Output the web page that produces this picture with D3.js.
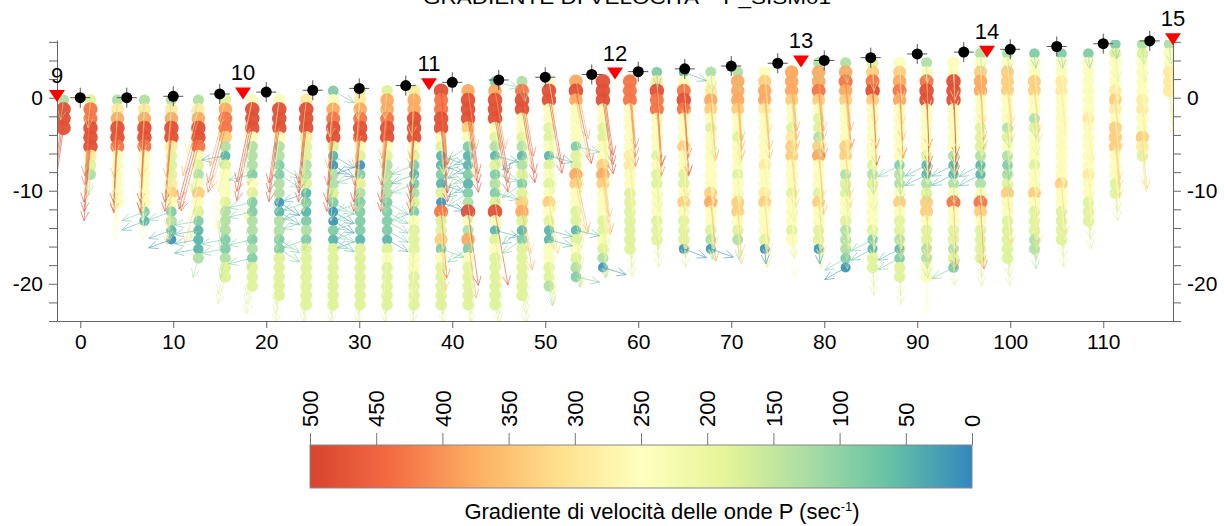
<!DOCTYPE html>
<html>
<head>
<meta charset="utf-8">
<script src="https://cdn.jsdelivr.net/npm/d3@7"></script>
<style>
  body { margin: 0; background: #fff; }
  text { font-family: "Liberation Sans", Arial, Helvetica, sans-serif; }
</style>
</head>
<body>
<svg id="chart" width="1224" height="526"></svg>
<script>
// ---- data -------------------------------------------------------------
// horizontal position (m) of each vertical profile of cells
const columnX = [-1.8, 1.1, 4.0, 6.9, 9.8, 12.7, 15.6, 18.5, 21.4, 24.3, 27.2, 30.1, 33.0, 35.9,
  38.8, 41.7, 44.6, 47.5, 50.4, 53.3, 56.2, 59.1, 62.0, 64.9, 67.8, 70.7, 73.6, 76.5,
  79.4, 82.3, 85.2, 88.1, 91.0, 93.9, 96.8, 99.7, 102.6, 105.5, 108.4, 111.3, 114.2, 117.1];
// elevation (m) of the first cell of each profile; cells follow every metre below
const columnTop = [-0.25, -0.25, -0.25, -0.25, -0.25, -0.25, -0.25, -0.25, -0.25, -0.25,
  0.75, 0.75, 0.75, 0.75, 0.75, 0.75, 1.75, 1.75, 1.75, 1.75, 1.75, 1.75,
  2.75, 2.75, 2.75, 2.75, 2.75, 2.75, 3.75, 3.75, 3.75, 3.75, 3.75, 3.75,
  4.75, 4.75, 4.75, 4.75, 4.75, 5.75, 5.75, 5.75];
// gradient class of every cell, top to bottom (see gradientClass)
const columnCells = [
  "GRRR", "gOORRRYgG", "GYoRROyyyyyy", "GYoRROyyyyyytT", "GYoRRYgggYpytGTB",
  "GYoRROygGypygtTTTG", "goOOpGTgyyygGGGttGgg", "yRRRyGGGtygttGGtGtggg",
  "yRRRyGGttGGBTGGttggggg", "YRRRYggGGgTtTtGtggggggg", "tyoORRgTBGGgtBBtTggggggg",
  "gYoORRygBtgGttttTggggggg", "gooORRygGGGGttttTgyggggg", "YooRRRygtTtGgtygggyygggg",
  "ROORRygTTtTgBOggptyggggg", "oRRRpytTTtTtGRyGotyggggg", "toRRRygGTgtGtgRyTgygggggg",
  "GORRyygGTGgtgpogTtgggggg", "yRRyyggyTgygypygTTyyggG", "oRoyyyytggopyyggTgygGt",
  "RRRyyggyypopyyyggygGB", "OOOyyyyyYYyyggggggg", "tYROOyyyygyggyyyggg",
  "TyOROyyypyyggypygggB", "GyYopygyyyyyypoyygGB", "GooopyygyyygyyppygG",
  "ypooYyyyyyYyyYpyyygB", "ooopyygYppyyygyyygy", "GooOpyggGpoyyygpyyggB",
  "GoOopyyyyppyGggyygGGGtB", "gpORpyyyyyygGgyyyygtTgg", "ypoOoyyyyyytGGypyggGTtgg",
  "GyORRyyyyygTTGgppyggGGyy", "yyRRRyyyyyGTTGyOyyggGgt", "GypooyyygggGTTGyOpygggg",
  "GypppyyyGgyGtGgpyyggggg", "tyyppyyGgyyygyypygggGG", "tyyYYyyyyyyyyypyygggg",
  "tyyyyyyYyyyyyYyyggg", "tgyyyYpYypppyyygg", "GgyyyyYYyypYg", "GyyYYY"
];
// velocity gradient (sec-1) of each class
const gradientClass = { R: 480, O: 430, o: 380, p: 335, Y: 290, y: 240, g: 180, G: 130, t: 85, T: 50, B: 15 };
// mean tilt (degrees from vertical, positive to the right) of the gradient vectors of each profile
const columnLean = [-8, -5, -3, -3, -5, -15, -15, -12, -8, -6, -5, -5, -5, -3,
  5, 8, 10, 10, 10, 12, 8, 5, 4, 4, 5, 4, 5, 5, 5, 5, 3, 3, 2, 2, 3, 5, 5, 5, 5, 5, 5, 5];
// side toward which the vectors of the weak-gradient cells turn (-1 left, 1 right, 0 none)
const columnWeakSide = [0, 0, 0, -1, -1, -1, -1, -1, 1, -1, 1, -1, 1, -1,
  1, -1, 1, -1, 1, 1, 1, 0, 0, 1, 1, 0, 0, 0, 0, -1, -1, -1, -1, -1, -1, 0, 0, 0, 0, 0, 0, 0];

// geophones
const geophoneX = [0, 5, 10, 15, 20, 25, 30, 35, 40, 45, 50, 55, 60, 65, 70, 75, 80, 85, 90, 95, 100, 105, 110, 115];
const geophoneZ = [0, 0, 0.15, 0.4, 0.6, 0.8, 1.0, 1.3, 1.65, 1.9, 2.2, 2.5, 2.8, 3.1, 3.4, 3.7, 4.0, 4.3, 4.7, 4.9, 5.2, 5.5, 5.8, 6.1];
// shot points
const shotLabel = ["9", "10", "11", "12", "13", "14", "15"];
const shotX = [-2.5, 17.5, 37.5, 57.5, 77.5, 97.5, 117.5];
const shotZ = [0.3, 0.57, 1.55, 2.7, 4.0, 5.05, 6.4];

// axes and colour bar
const xTickValues = [0, 10, 20, 30, 40, 50, 60, 70, 80, 90, 100, 110];
const yTickValues = [6, 4, 2, 0, -2, -4, -6, -8, -10, -12, -14, -16, -18, -20, -22, -24];
const yLabelled = [0, -10, -20];
const barTickValues = [500, 450, 400, 350, 300, 250, 200, 150, 100, 50, 0];
const colorDomain = [500, 437.5, 375, 312.5, 250, 187.5, 125, 62.5, 0];
const colorRange = ["#d8432e", "#f46d43", "#fdae61", "#fee08b", "#ffffbf", "#e6f598", "#abdda4", "#66c2a5", "#3288bd"];

const titleText = "GRADIENTE DI VELOCITA' - P_SISM01";
const captionText = "Gradiente di velocità delle onde P (sec";

// ---- scales -------------------------------------------------------------
const svg = d3.select("#chart");
const x = d3.scaleLinear().domain([-2.5, 117.5]).range([57, 1173]);
const y = d3.scaleLinear().domain([-24, 6.2]).range([321, 40]);
const color = d3.scaleLinear().domain(colorDomain).range(colorRange);
const radius = d3.scaleLinear().domain([0, 500]).range([4.9, 7.4]);
const vecLen = d3.scaleLinear().domain([0, 480]).range([0, 8]);   // metres

// title (partly outside the page, as on the original sheet)
svg.append("text").attr("x", 423).attr("y", 4).attr("font-size", 19)
  .attr("textLength", 408).attr("lengthAdjust", "spacingAndGlyphs")
  .text(titleText);

// ---- cells --------------------------------------------------------------
const cells = [];
columnCells.forEach((str, i) => {
  [...str].forEach((c, k) => {
    const v = gradientClass[c];
    const weak = v < 100 && columnWeakSide[i] !== 0;
    cells.push({
      px: columnX[i], z: columnTop[i] - k, v: v,
      angle: columnLean[i] + (weak ? columnWeakSide[i] * 65 : 0),
      minLen: weak ? 2.6 : 1.6
    });
  });
});

svg.append("defs").append("clipPath").attr("id", "plotClip")
  .append("rect").attr("x", x(-2.5)).attr("y", y(6.2)).attr("width", x(117.5) - x(-2.5)).attr("height", y(-24) - y(6.2));

const plot = svg.append("g").attr("clip-path", "url(#plotClip)");

plot.append("g").selectAll("circle").data(cells).join("circle")
  .attr("cx", d => x(d.px)).attr("cy", d => y(d.z))
  .attr("r", d => radius(d.v))
  .attr("fill", d => color(d.v)).attr("fill-opacity", 0.95);

// gradient vectors
function vectorPath(d) {
  const th = d.angle * Math.PI / 180;
  const L = Math.max(vecLen(d.v), d.minLen);
  const x0 = x(d.px), y0 = y(d.z);
  const x1 = x(d.px + L * Math.sin(th)), y1 = y(d.z - L * Math.cos(th));
  const dx = x1 - x0, dy = y1 - y0, len = Math.hypot(dx, dy) || 1;
  const ux = -dx / len, uy = -dy / len, h = 10, a = 24 * Math.PI / 180;
  const hx1 = x1 + h * (ux * Math.cos(a) - uy * Math.sin(a)), hy1 = y1 + h * (ux * Math.sin(a) + uy * Math.cos(a));
  const hx2 = x1 + h * (ux * Math.cos(-a) - uy * Math.sin(-a)), hy2 = y1 + h * (ux * Math.sin(-a) + uy * Math.cos(-a));
  return `M${x0},${y0}L${x1},${y1}M${hx1},${hy1}L${x1},${y1}L${hx2},${hy2}`;
}
plot.append("g").selectAll("path").data(cells).join("path")
  .attr("d", vectorPath).attr("fill", "none")
  .attr("stroke", d => color(d.v)).attr("stroke-opacity", 0.6).attr("stroke-width", 1);

// ---- axes ---------------------------------------------------------------
const fmtY = d => (yLabelled.includes(d) ? String(d) : "");
function styleAxis(g) {
  g.selectAll(".domain, .tick line").attr("stroke", "#666");
  g.selectAll(".tick text").attr("fill", "#000").attr("font-size", 21)
    .attr("font-family", '"Liberation Sans", Arial, sans-serif');
}
svg.append("g").attr("transform", `translate(${x(-2.5)},0)`)
  .call(d3.axisLeft(y).tickValues(yTickValues).tickFormat(fmtY).tickSize(8).tickSizeOuter(0).tickPadding(6))
  .call(styleAxis);
svg.append("g").attr("transform", `translate(${x(117.5)},0)`)
  .call(d3.axisRight(y).tickValues(yTickValues).tickFormat(fmtY).tickSize(8).tickSizeOuter(0).tickPadding(6))
  .call(styleAxis);
svg.append("g").attr("transform", `translate(0,${y(-24)})`)
  .call(d3.axisBottom(x).tickValues(xTickValues).tickFormat(d => String(d)).tickSize(7).tickSizeOuter(0).tickPadding(6))
  .call(styleAxis);

// ---- geophones ----------------------------------------------------------
const geo = svg.append("g").selectAll("g").data(geophoneX).join("g")
  .attr("transform", (d, i) => `translate(${x(d)},${y(geophoneZ[i])})`);
geo.append("path").attr("d", "M-10,0H10M0,-10V10").attr("stroke", "#555").attr("stroke-width", 1);
geo.append("circle").attr("r", 5.5).attr("fill", "#000");

// ---- shots --------------------------------------------------------------
const shots = svg.append("g").selectAll("g").data(shotX).join("g")
  .attr("transform", (d, i) => `translate(${x(d)},${y(shotZ[i])})`);
shots.append("path").attr("d", "M-8,-5L8,-5L0,7Z").attr("fill", "#ff0000");
shots.append("text").attr("y", -12).attr("text-anchor", "middle").attr("font-size", 22)
  .text((d, i) => shotLabel[i]);

// ---- colour bar ---------------------------------------------------------
const cb = d3.scaleLinear().domain([500, 0]).range([310, 972]);
const grad = svg.select("defs").append("linearGradient").attr("id", "cbGrad")
  .attr("x1", "0%").attr("x2", "100%").attr("y1", "0%").attr("y2", "0%");
grad.selectAll("stop").data(colorDomain).join("stop")
  .attr("offset", d => (cb(d) - 310) / (972 - 310))
  .attr("stop-color", d => color(d));
svg.append("rect").attr("x", 310).attr("y", 445).attr("width", 662).attr("height", 43)
  .attr("fill", "url(#cbGrad)").attr("stroke", "#888").attr("stroke-width", 1);
const cbAxis = svg.append("g").attr("transform", "translate(0,445)")
  .call(d3.axisTop(cb).tickValues(barTickValues).tickFormat(d => String(d)).tickSize(12).tickSizeOuter(0));
cbAxis.select(".domain").remove();
cbAxis.selectAll(".tick line").attr("stroke", "#777");
cbAxis.selectAll(".tick text")
  .attr("font-size", 22).attr("fill", "#000").attr("font-family", '"Liberation Sans", Arial, sans-serif')
  .attr("transform", "translate(0,-18) rotate(-90)")
  .attr("x", 0).attr("y", 0).attr("dy", "0.35em").attr("text-anchor", "start");

const cap = svg.append("text").attr("x", 662).attr("y", 519).attr("text-anchor", "middle").attr("font-size", 22);
cap.append("tspan").text(captionText);
cap.append("tspan").attr("font-size", 13).attr("dy", -8).text("-1");
cap.append("tspan").attr("dy", 8).text(")");
</script>
</body>
</html>
